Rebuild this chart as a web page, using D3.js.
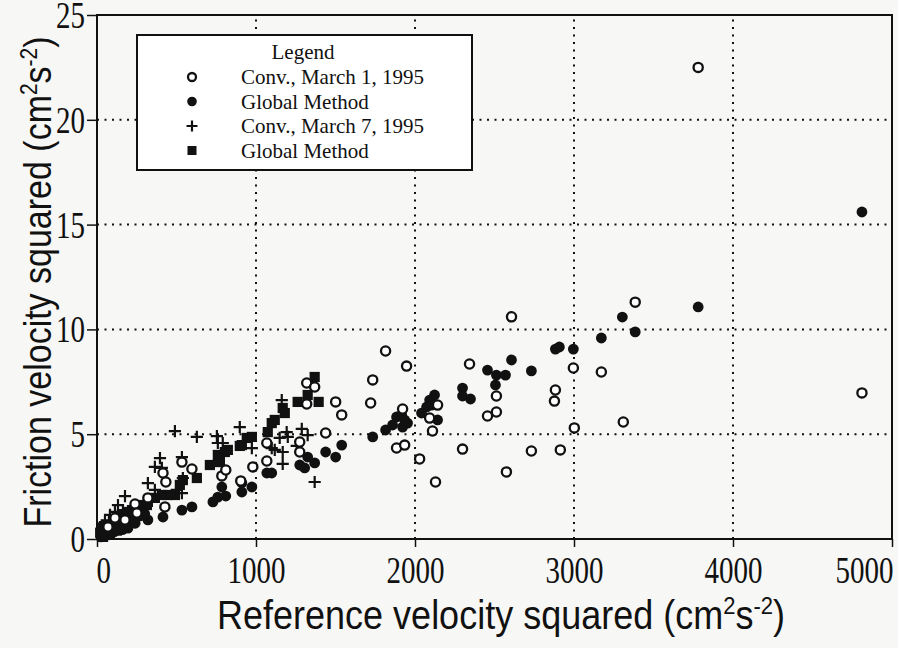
<!DOCTYPE html>
<html>
<head>
<meta charset="utf-8">
<script src="https://cdn.jsdelivr.net/npm/d3@7"></script>
<style>
  body { margin: 0; background: #f7f7f5; }
  svg { display: block; }
</style>
</head>
<body>
<svg id="chart"></svg>
<script>
// tick values
const xTicks = [0, 1000, 2000, 3000, 4000, 5000];
const yTicks = [0, 5, 10, 15, 20, 25];

// Conv., March 1, 1995 (open circles) [reference u^2, friction u*^2]
const conv1 = [
  [3781, 22.5], [4811, 6.97], [3385, 11.3], [3310, 5.58], [2607, 10.6], [2343, 8.35],
  [2996, 8.16], [3172, 7.97], [2883, 7.11], [2877, 6.58], [2512, 6.82], [2456, 5.87],
  [2512, 6.06], [2142, 6.39], [2092, 5.77], [2110, 5.15], [3002, 5.30], [2299, 4.29],
  [2732, 4.20], [2914, 4.25], [2575, 3.20], [2129, 2.72], [2029, 3.82], [1815, 8.97],
  [1947, 8.25], [1734, 7.59], [1721, 6.49], [1922, 6.20], [1884, 4.34], [1935, 4.48],
  [1319, 7.44], [1369, 7.25], [1319, 6.44], [1501, 6.54], [1539, 5.92], [1438, 5.06],
  [1275, 4.63], [1275, 4.15], [1068, 4.58], [1068, 3.72], [980, 3.44], [904, 2.77],
  [785, 3.01], [810, 3.29], [597, 3.34], [534, 3.67], [415, 3.15], [433, 2.72],
  [320, 1.96], [427, 1.53], [239, 1.67], [113, 1.00], [251, 1.24], [69, 0.57], [176, 0.91]
];

// Global Method, March 1 (filled circles)
const global1 = [
  [4811, 15.6], [3781, 11.07], [3304, 10.59], [3385, 9.88], [3172, 9.59], [2883, 9.06],
  [2908, 9.16], [2996, 9.06], [2607, 8.54], [2732, 8.02], [2456, 8.06], [2512, 7.82],
  [2569, 7.82], [2506, 7.35], [2299, 7.20], [2299, 6.82], [2349, 6.68], [2123, 6.87],
  [2092, 6.63], [2073, 6.30], [2104, 6.39], [2041, 6.01], [2142, 5.68], [1916, 5.92],
  [1884, 5.82], [1935, 5.68], [1859, 5.44], [1953, 5.53], [1922, 5.34], [1815, 5.20],
  [1734, 4.87], [1539, 4.48], [1501, 3.91], [1438, 4.15], [1369, 3.63], [1325, 3.91],
  [1275, 3.53], [1306, 3.39], [1099, 3.15], [1068, 3.15], [974, 2.48], [911, 2.67],
  [785, 2.48], [810, 2.05], [760, 2.00], [729, 1.77], [597, 1.53], [534, 1.38],
  [415, 1.05], [320, 0.91], [911, 2.24], [207, 0.90], [144, 0.67], [82, 0.43],
  [44, 0.24], [94, 0.43], [132, 0.57], [170, 0.72], [220, 0.95], [270, 1.10], [195, 0.52],
  [25, 0.10], [60, 0.30], [110, 0.35], [160, 0.45], [240, 0.75], [300, 1.20]
];

// Conv., March 7, 1995 (plus signs)
const conv7 = [
  [1162, 6.63], [490, 5.15], [628, 4.87], [754, 4.91], [760, 4.58], [791, 4.58],
  [898, 5.34], [974, 4.34], [396, 3.86], [364, 3.44], [408, 3.39], [320, 2.67],
  [176, 2.05], [1149, 4.82], [1193, 5.10], [1200, 4.87], [1288, 5.25], [1325, 4.96],
  [1099, 4.34], [1118, 4.25], [1168, 4.15], [1168, 3.58], [1369, 2.72], [534, 3.91],
  [540, 2.91], [502, 2.34], [534, 2.19], [1256, 4.44], [132, 1.62], [163, 1.38],
  [364, 2.34], [82, 1.15], [50, 0.81], [113, 1.29]
];

// Global Method, March 7 (filled squares)
const global7 = [
  [1262, 6.54], [1325, 6.87], [1394, 6.54], [1369, 7.73], [1168, 6.25], [1181, 6.01],
  [1118, 5.68], [1099, 5.53], [1074, 5.10], [974, 4.87], [942, 4.82], [898, 4.44],
  [804, 4.15], [760, 4.01], [823, 4.25], [911, 4.48], [710, 3.53], [773, 3.67],
  [628, 2.91], [540, 2.81], [521, 2.58], [490, 2.10], [446, 2.10], [408, 2.10],
  [364, 1.96], [320, 1.77], [314, 1.62], [50, 0.19], [69, 0.43], [94, 0.57],
  [113, 0.72], [132, 0.91], [157, 1.00], [176, 1.15], [195, 1.29], [220, 1.38],
  [245, 1.48], [270, 1.62], [38, 0.10], [82, 0.29], [144, 0.52], [207, 0.81], [258, 1.15],
  [20, 0.30], [30, 0.55], [55, 0.70], [100, 0.95], [125, 0.40], [185, 0.75], [230, 1.05]
];

const legendLabels = ["Conv., March 1, 1995", "Global Method", "Conv., March 7, 1995", "Global Method"];
const legendMarks = ["open", "filled", "plus", "square"];

const width = 898, height = 648;
const margin = { top: 15, right: 6, bottom: 109, left: 97 };

const svg = d3.select("#chart").attr("width", width).attr("height", height);

const x = d3.scaleLinear().domain([0, 5000]).range([margin.left, width - margin.right]);
const y = d3.scaleLinear().domain([0, 25]).range([height - margin.bottom, margin.top]);

const serif = "'Liberation Serif', 'Times New Roman', serif";
const sans = "'Liberation Sans', Arial, sans-serif";

// dotted grid
const grid = svg.append("g").attr("stroke", "#111").attr("stroke-width", 2)
  .attr("stroke-dasharray", "2,5.5");
grid.selectAll(".gx").data(xTicks.slice(1, -1)).join("line")
  .attr("x1", d => x(d)).attr("x2", d => x(d))
  .attr("y1", y(0)).attr("y2", y(25));
grid.selectAll(".gy").data(yTicks.slice(1, -1)).join("line")
  .attr("y1", d => y(d)).attr("y2", d => y(d))
  .attr("x1", x(0)).attr("x2", x(5000));

// axes (tick labels are tall and narrow in the scan, hence the y-stretch)
const xAxis = svg.append("g")
  .attr("transform", `translate(0,${y(0)})`)
  .call(d3.axisBottom(x).tickValues(xTicks).tickFormat(d3.format("d"))
    .tickSize(8).tickSizeOuter(0));
xAxis.selectAll("text")
  .attr("y", 0).attr("dy", null)
  .attr("transform", "translate(0,44) scale(1,1.33)")
  .attr("text-anchor", (d, i) => i === 0 ? "start" : (i === xTicks.length - 1 ? "end" : "middle"))
  .attr("dx", (d, i) => i === 0 ? -1 : (i === xTicks.length - 1 ? 1 : 0));

const yAxis = svg.append("g")
  .attr("transform", `translate(${x(0)},0)`)
  .call(d3.axisLeft(y).tickValues(yTicks).tickFormat(d3.format("d"))
    .tickSize(10).tickSizeOuter(0));
yAxis.selectAll("text")
  .attr("x", 0).attr("dy", null)
  .attr("transform", "translate(-12,12.5) scale(1,1.33)");

[xAxis, yAxis].forEach(a => {
  a.attr("font-family", serif).attr("font-size", 29);
  a.select(".domain").remove();
  a.selectAll("line").attr("stroke", "#111").attr("stroke-width", 1.5);
  a.selectAll("text").attr("fill", "#111");
});

// frame
svg.append("rect")
  .attr("x", x(0)).attr("y", y(25))
  .attr("width", x(5000) - x(0)).attr("height", y(0) - y(25))
  .attr("fill", "none").attr("stroke", "#111").attr("stroke-width", 2);

// markers
function drawMark(sel, kind, r) {
  if (kind === "open") {
    sel.append("circle").attr("r", r).attr("fill", "#fff").attr("stroke", "#111").attr("stroke-width", 2.3);
  } else if (kind === "filled") {
    sel.append("circle").attr("r", r + 0.8).attr("fill", "#111");
  } else if (kind === "square") {
    sel.append("rect").attr("x", -r - 0.5).attr("y", -r - 0.5).attr("width", 2 * r + 1).attr("height", 2 * r + 1).attr("fill", "#111");
  } else {
    sel.append("path").attr("d", `M${-r - 1.5},0H${r + 1.5}M0,${-r - 1.5}V${r + 1.5}`)
      .attr("stroke", "#111").attr("stroke-width", 2.2).attr("fill", "none");
  }
}

const series = [
  { data: global7, kind: "square" },
  { data: global1, kind: "filled" },
  { data: conv7, kind: "plus" },
  { data: conv1, kind: "open" }
];

series.forEach(s => {
  svg.append("g").selectAll("g").data(s.data).join("g")
    .attr("transform", d => `translate(${x(d[0])},${y(d[1])})`)
    .each(function () { drawMark(d3.select(this), s.kind, 4.6); });
});

// legend
const lg = svg.append("g").attr("transform", "translate(137,35)");
lg.append("rect").attr("width", 335).attr("height", 135)
  .attr("fill", "#fff").attr("stroke", "#111").attr("stroke-width", 2);
lg.append("text").attr("x", 166).attr("y", 24).attr("text-anchor", "middle")
  .style("font-family", serif).style("font-size", "21px").attr("fill", "#111").text("Legend");
const rows = lg.selectAll(".row").data(legendLabels).join("g")
  .attr("transform", (d, i) => `translate(0,${42 + i * 24.5})`);
rows.each(function (d, i) {
  const g = d3.select(this).append("g").attr("transform", "translate(55,0)");
  drawMark(g, legendMarks[i], 4);
});
rows.append("text").attr("x", 104).attr("y", 7)
  .style("font-family", serif).style("font-size", "21px").attr("fill", "#111")
  .text(d => d);

// axis titles
const xt = svg.append("text").attr("transform", "translate(501,629) scale(1,1.12)")
  .attr("text-anchor", "middle")
  .style("font-family", sans).style("font-size", "36px").attr("fill", "#111");
xt.append("tspan").text("Reference velocity squared (cm");
xt.append("tspan").attr("dy", -13).style("font-size", "22px").text("2");
xt.append("tspan").attr("dy", 13).text("s");
xt.append("tspan").attr("dy", -13).style("font-size", "22px").text("-2");
xt.append("tspan").attr("dy", 13).text(")");

const yt = svg.append("text")
  .attr("transform", `translate(51,${(y(0) + y(25)) / 2 + 5}) rotate(-90) scale(1,1.15)`)
  .attr("text-anchor", "middle")
  .style("font-family", sans).style("font-size", "34px").attr("fill", "#111");
yt.append("tspan").text("Friction velocity squared (cm");
yt.append("tspan").attr("dy", -12).style("font-size", "21px").text("2");
yt.append("tspan").attr("dy", 12).text("s");
yt.append("tspan").attr("dy", -12).style("font-size", "21px").text("-2");
yt.append("tspan").attr("dy", 12).text(")");
</script>
</body>
</html>
